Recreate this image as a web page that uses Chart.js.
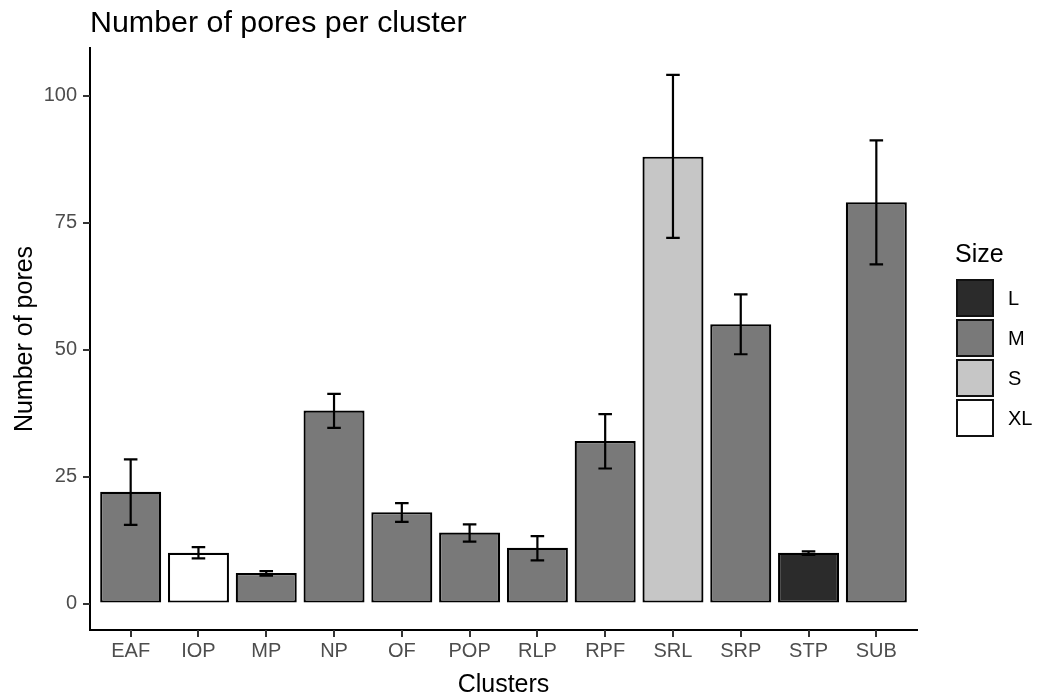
<!DOCTYPE html>
<html><head><meta charset="utf-8">
<script src="https://cdn.jsdelivr.net/npm/chart.js@4.4.1/dist/chart.umd.min.js"></script>
<style>html,body{margin:0;padding:0;background:#fff;} canvas{display:block;}</style>
</head><body>
<canvas id="c" width="1040" height="695"></canvas>
<script>
const categories = ['EAF','IOP','MP','NP','OF','POP','RLP','RPF','SRL','SRP','STP','SUB'];
const poreCounts = [22, 10, 6, 38, 18, 14, 11, 32, 88, 55, 10, 79];
const errLow  = [15.5, 8.9, 5.5, 34.6, 16.1, 12.2, 8.5, 26.6, 72.0, 49.1, 9.6, 66.8];
const errHigh = [28.4, 11.1, 6.4, 41.3, 19.8, 15.6, 13.3, 37.3, 104.1, 60.9, 10.3, 91.2];
const sizeClass = ['M','XL','M','M','M','M','M','M','S','M','L','M'];
const sizeLevels = ['L','M','S','XL'];
const yTickValues = [0, 25, 50, 75, 100];

const FONT = '"Liberation Sans", Arial, Helvetica, sans-serif';
const sizeColors = {L: '#2b2b2b', M: '#797979', S: '#c6c6c6', XL: '#ffffff'};
const TICK_LEN = 6;

const tickMarkPlugin = {
  id: 'tickMarks',
  afterDraw(chart) {
    const ctx = chart.ctx, xs = chart.scales.x, ys = chart.scales.y;
    const area = chart.chartArea;
    ctx.save();
    ctx.strokeStyle = '#333';
    ctx.lineWidth = 2;
    ctx.beginPath();
    xs.ticks.forEach(t => {
      const x = Math.round(xs.getPixelForValue(t.value));
      ctx.moveTo(x, area.bottom);
      ctx.lineTo(x, area.bottom + TICK_LEN + 1);
    });
    ys.ticks.forEach(t => {
      const y = Math.round(ys.getPixelForValue(t.value));
      ctx.moveTo(area.left, y);
      ctx.lineTo(area.left - TICK_LEN - 1, y);
    });
    ctx.stroke();
    ctx.restore();
  }
};

const errorBarPlugin = {
  id: 'errorBars',
  afterDatasetsDraw(chart) {
    const ctx = chart.ctx, xs = chart.scales.x, ys = chart.scales.y;
    ctx.save();
    ctx.strokeStyle = '#000';
    ctx.lineWidth = 2.2;
    ctx.lineCap = 'butt';
    categories.forEach((c, i) => {
      const x = xs.getPixelForValue(i);
      const hw = xs.getPixelForValue(i + 0.1) - x;
      const yl = ys.getPixelForValue(errLow[i]);
      const yh = ys.getPixelForValue(errHigh[i]);
      ctx.beginPath();
      ctx.moveTo(x, yl); ctx.lineTo(x, yh);
      ctx.moveTo(x - hw, yl); ctx.lineTo(x + hw, yl);
      ctx.moveTo(x - hw, yh); ctx.lineTo(x + hw, yh);
      ctx.stroke();
    });
    ctx.restore();
  }
};

const legendPlugin = {
  id: 'sizeLegend',
  afterDraw(chart) {
    const ctx = chart.ctx, area = chart.chartArea;
    const box = 38, pitch = 40;
    const x0 = area.right + 39;
    const top = 279;
    ctx.save();
    ctx.fillStyle = '#000';
    ctx.font = '25px ' + FONT;
    ctx.textAlign = 'left';
    ctx.textBaseline = 'alphabetic';
    ctx.fillText('Size', x0 - 1, 262);
    ctx.font = '20px ' + FONT;
    ctx.textBaseline = 'middle';
    sizeLevels.forEach((lvl, k) => {
      const y = top + k * pitch;
      ctx.fillStyle = sizeColors[lvl];
      ctx.fillRect(x0, y, box, box);
      ctx.strokeStyle = '#111';
      ctx.lineWidth = 2;
      ctx.strokeRect(x0 + 1, y + 1, box - 2, box - 2);
      ctx.fillStyle = '#000';
      ctx.fillText(lvl, x0 + box + 14, y + box / 2 + 1);
    });
    ctx.restore();
  }
};

new Chart(document.getElementById('c'), {
  type: 'bar',
  data: {
    datasets: [{
      data: poreCounts.map((v, i) => ({x: i, y: v})),
      backgroundColor: sizeClass.map(s => sizeColors[s]),
      borderColor: '#000',
      borderWidth: 2.2,
      borderSkipped: false,
      barPercentage: 0.9,
      categoryPercentage: 1.0
    }]
  },
  options: {
    responsive: false,
    animation: false,
    devicePixelRatio: 1,
    layout: {padding: {left: 0, right: 123, top: 0, bottom: 0}},
    plugins: {
      legend: {display: false},
      tooltip: {enabled: false},
      title: {
        display: true,
        text: 'Number of pores per cluster',
        align: 'start',
        fullSize: false,
        color: '#000',
        font: {family: FONT, size: 30.4, weight: 'normal', lineHeight: 1.2},
        padding: {top: 5, bottom: 6.5}
      }
    },
    scales: {
      x: {
        type: 'linear',
        min: -0.6,
        max: 11.6,
        offset: false,
        afterBuildTicks(scale) { scale.ticks = categories.map((c, i) => ({value: i})); },
        afterFit(scale) { scale.height = 65; },
        ticks: {
          autoSkip: false,
          maxRotation: 0,
          color: '#4d4d4d',
          font: {family: FONT, size: 20},
          padding: 3,
          callback: (v) => categories[v]
        },
        grid: {offset: false, drawOnChartArea: false, drawTicks: true, tickLength: TICK_LEN, color: 'rgba(0,0,0,0)', lineWidth: 2},
        border: {display: true, color: '#000', width: 2},
        title: {
          display: true,
          text: 'Clusters',
          color: '#000',
          font: {family: FONT, size: 25, lineHeight: 0.76},
          padding: {top: 0, bottom: 0}
        }
      },
      y: {
        type: 'linear',
        min: -5.2,
        max: 109.4,
        afterBuildTicks(scale) { scale.ticks = yTickValues.map(v => ({value: v})); },
        afterFit(scale) { scale.width = 90; },
        ticks: {
          color: '#4d4d4d',
          font: {family: FONT, size: 20},
          padding: 7
        },
        grid: {drawOnChartArea: false, drawTicks: true, tickLength: TICK_LEN, color: 'rgba(0,0,0,0)', lineWidth: 2},
        border: {display: true, color: '#000', width: 2},
        title: {
          display: true,
          text: 'Number of pores',
          color: '#000',
          font: {family: FONT, size: 25, lineHeight: 1},
          padding: {top: 12.5, bottom: 0}
        }
      }
    }
  },
  plugins: [errorBarPlugin, tickMarkPlugin, legendPlugin]
});
</script>
</body></html>
